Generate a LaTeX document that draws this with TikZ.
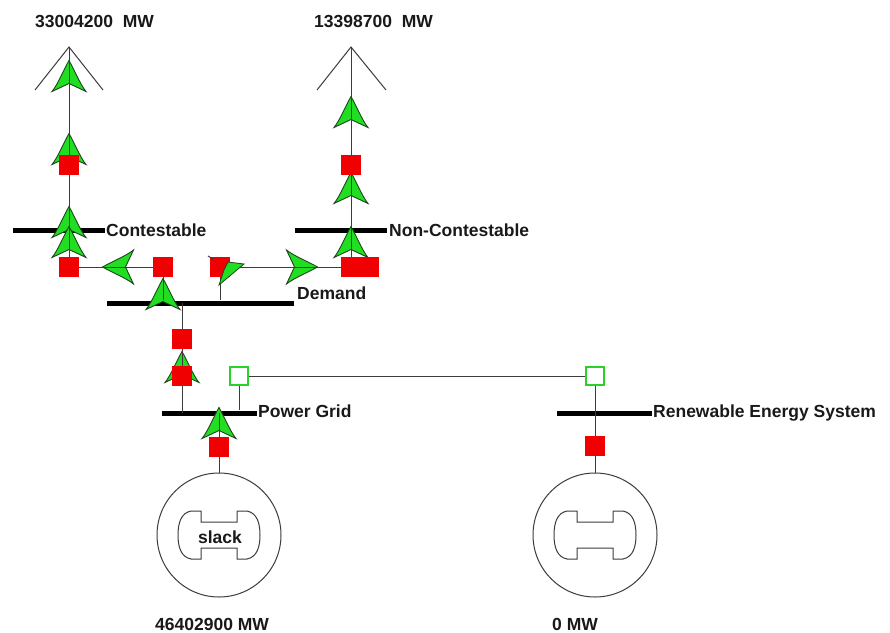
\documentclass[tikz,border=0pt]{standalone}
\usepackage{fontspec}
\setmainfont{Liberation Sans}
\definecolor{flowgreen}{RGB}{34,222,34}
\definecolor{flowedge}{RGB}{30,70,30}
\definecolor{brkred}{RGB}{240,0,0}
\definecolor{opengreen}{RGB}{40,210,40}
\definecolor{wiregray}{RGB}{60,60,60}
\tikzset{
  wire/.style={draw=wiregray, line width=1pt},
  busbar/.style={fill=black, draw=none, minimum height=5pt, inner sep=0pt},
  breaker/.style={fill=brkred, draw=none, minimum width=20pt, minimum height=20pt, inner sep=0pt},
  openbrk/.style={fill=white, draw=opengreen, line width=1.6pt, minimum width=17.5pt, minimum height=17.5pt, inner sep=0pt},
  genring/.style={circle, draw=wiregray, line width=1pt, fill=white, minimum size=124pt, inner sep=0pt},
  lbl/.style={font=\bfseries\fontsize{17.5}{20}\selectfont, inner sep=0pt, text=black!90},
  flow/.pic={\path[fill=flowgreen, draw=flowedge, line width=0.9pt]
      (0,-15.5) .. controls (6.5,-4) and (11,8) .. (17,15.5) -- (0,7.5) -- (-17,15.5)
      .. controls (-11,8) and (-6.5,-4) .. (0,-15.5) -- cycle;},
  rotor/.pic={\draw[draw=wiregray, line width=1pt]
      (-18,-24) -- (-28,-24) .. controls (-38,-22) and (-41,-12) .. (-41,0)
      .. controls (-41,12) and (-38,22) .. (-28,24) -- (-18,24) -- (-18,13)
      -- (18,13) -- (18,24) -- (28,24) .. controls (38,22) and (41,12) .. (41,0)
      .. controls (41,-12) and (38,-22) .. (28,-24) -- (18,-24) -- (18,-13)
      -- (-18,-13) -- cycle;}
}
\begin{document}
\begin{tikzpicture}[x=1pt,y=-1pt]
\useasboundingbox[fill=white] (0,0) rectangle (890,632);

% coordinates
\coordinate (apexC) at (69,47);
\coordinate (armCl) at (35,90);
\coordinate (armCr) at (103,90);
\coordinate (apexN) at (351,47);
\coordinate (armNl) at (317,90);
\coordinate (armNr) at (386,90);
\coordinate (cornN) at (351,267);
\coordinate (dropD) at (182,303);
\coordinate (dropP) at (182,413);
\coordinate (genP) at (219,413);

% buses
\node[busbar, minimum width=92pt] (busC) at (59,230) {};
\node[busbar, minimum width=92pt] (busN) at (341,230) {};
\node[busbar, minimum width=187pt] (busD) at (200.5,303) {};
\node[busbar, minimum width=95pt] (busP) at (209.5,413) {};
\node[busbar, minimum width=95pt] (busR) at (604.5,413) {};

% generators
\node[genring] (gen1) at (219,535) {};
\node[genring] (gen2) at (595,535) {};

% flow arrows (under the wires)
\pic at (69,76) {flow};
\pic at (69,149) {flow};
\pic at (69,222) {flow};
\pic at (69,242) {flow};
\pic[rotate=90] at (118,267) {flow};
\pic at (163,294) {flow};
\pic[rotate=-90] at (302,267) {flow};
\pic at (351,112) {flow};
\pic at (351,188) {flow};
\pic at (351,242) {flow};
\pic at (182,367) {flow};
\pic at (219,423) {flow};

% breakers
\node[breaker] (brC1) at (69,165) {};
\node[breaker] (brC2) at (69,267) {};
\node[breaker] (brD1) at (163,267) {};
\node[breaker] (brD2) at (220,267) {};
\node[breaker, minimum width=38pt] (brN2) at (360,267) {};
\node[breaker] (brN1) at (351,165) {};
\node[breaker] (brL1) at (182,339) {};
\node[breaker] (brL2) at (182,376) {};
\node[breaker] (brG1) at (219,447) {};
\node[breaker] (brG2) at (595,446) {};

% wires
\draw[wire] (armCl) -- (apexC) -- (armCr);
\draw[wire] (armNl) -- (apexN) -- (armNr);
\draw[wire] (apexC) -- (brC1.north);
\draw[wire] (brC1.south) -- (brC2.north);
\draw[wire] (apexN) -- (brN1.north);
\draw[wire] (brN1.south) -- (brN2.north -| cornN);
\draw[wire] (brC2.east) -- (brD1.west);
\draw[wire] (brD1.south) -- (brD1.center |- busD.north);
\draw[wire] (brD2.south) -- (brD2.center |- busD.north);
\draw[wire] (brD2.east) -- (brN2.west);
\draw[wire] (dropD) -- (brL1.north);
\draw[wire] (brL1.south) -- (brL2.north);
\draw[wire] (brL2.south) -- (dropP);
\draw[wire] (genP) -- (brG1.north);
\draw[wire] (brG1.south) -- (gen1.north);
\draw[wire] (brG2.south) -- (gen2.north);

% open breakers
\node[openbrk] (ob1) at (239,376) {};
\node[openbrk] (ob2) at (595,376) {};
\draw[wire] (ob1.south) -- (ob1.center |- busP.north);
\draw[wire] (ob1.east) -- (ob2.west);
\draw[wire] (ob2.south) -- (brG2.north);

% small tilted flow marker
\path[fill=flowgreen, draw=flowedge, line width=0.8pt] (228,262) -- (244,264) -- (219,285) -- (224,270) -- cycle;
\draw[wire] (208,256) -- (213,259);

% generator rotors
\pic at (gen1.center) {rotor};
\pic at (gen2.center) {rotor};

% labels
\node[lbl, anchor=base west] (tC) at (106,236) {Contestable};
\node[lbl, anchor=base west] (tN) at (389,236) {Non-Contestable};
\node[lbl, anchor=base west] (tD) at (297,299) {Demand};
\node[lbl, anchor=base west] (tP) at (258,417) {Power Grid};
\node[lbl, anchor=base west] (tR) at (653,417) {Renewable Energy System};
\node[lbl, anchor=base west] (vC) at (35,27) {33004200\ \ MW};
\node[lbl, anchor=base west] (vN) at (314,27) {13398700\ \ MW};
\node[lbl, anchor=base west] (vG1) at (155,630) {46402900 MW};
\node[lbl, anchor=base west] (vG2) at (552,630) {0 MW};
\node[lbl, anchor=base] (sl) at (220,543) {slack};
\end{tikzpicture}
\end{document}
